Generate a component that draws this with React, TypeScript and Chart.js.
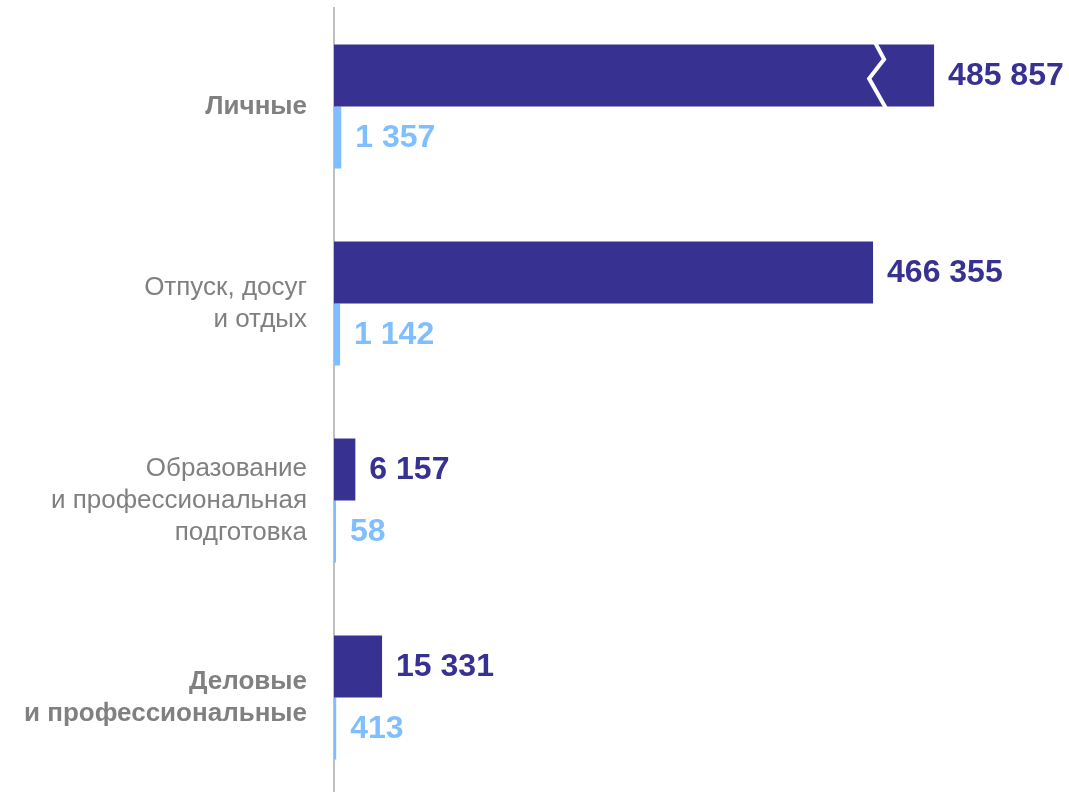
import React, { useEffect, useRef } from "react";
import { Chart, registerables, LinearScale } from "chart.js";

const categories: string[][] = [
  ["Личные"],
  ["Отпуск, досуг", "и отдых"],
  ["Образование", "и профессиональная", "подготовка"],
  ["Деловые", "и профессиональные"],
];
const boldCategories = [true, false, false, true];
const seriesMain = [485857, 466355, 6157, 15331];
const seriesSecond = [1357, 1142, 58, 413];
const brokenBarIndexes = [0];

// axis break knots: value -> share of axis length (non-linear infographic scale)
const breakValues = [0, 1400, 16000, 470000, 490000];
const breakShares = [0, 7.5 / 735, 50 / 735, 543 / 735, 615 / 735];

const DARK = "#373192";
const LIGHT = "#80bfff";
const GRAY = "#808080";
const FONT = "'Liberation Sans', Arial, sans-serif";

function toShare(v: number): number {
  if (v <= breakValues[0]) return breakShares[0];
  for (let i = 1; i < breakValues.length; i++) {
    if (v <= breakValues[i]) {
      const t = (v - breakValues[i - 1]) / (breakValues[i] - breakValues[i - 1]);
      return breakShares[i - 1] + t * (breakShares[i] - breakShares[i - 1]);
    }
  }
  const n = breakValues.length - 1;
  return breakShares[n];
}
function fromShare(s: number): number {
  for (let i = 1; i < breakShares.length; i++) {
    if (s <= breakShares[i]) {
      const t = (s - breakShares[i - 1]) / (breakShares[i] - breakShares[i - 1]);
      return breakValues[i - 1] + t * (breakValues[i] - breakValues[i - 1]);
    }
  }
  return breakValues[breakValues.length - 1];
}

class BrokenScale extends LinearScale {
  static id = "broken";
  getPixelForValue(value: number) {
    return this.getPixelForDecimal(toShare(value));
  }
  getValueForPixel(pixel: number) {
    return fromShare(this.getDecimalForPixel(pixel));
  }
}

Chart.register(...registerables, BrokenScale as any);

const fmt = (v: number) => String(v).replace(/\B(?=(\d{3})+(?!\d))/g, " ");

const labelsPlugin = {
  id: "valueLabels",
  afterDatasetsDraw(chart: any) {
    const ctx = chart.ctx;
    ctx.save();
    // axis break zigzag
    const meta0 = chart.getDatasetMeta(0);
    brokenBarIndexes.forEach((i) => {
      const bar = meta0.data[i];
      if (!bar) return;
      const h = bar.height;
      const top = bar.y - h / 2;
      const end = bar.x;
      ctx.strokeStyle = "#ffffff";
      ctx.lineWidth = 4;
      ctx.lineJoin = "miter";
      ctx.beginPath();
      ctx.moveTo(end - 59, top - 2);
      ctx.lineTo(end - 50, top + h * 0.24);
      ctx.lineTo(end - 65, top + h * 0.55);
      ctx.lineTo(end - 48, top + h + 2);
      ctx.stroke();
    });
    ctx.font = `bold 32px ${FONT}`;
    ctx.textAlign = "left";
    ctx.textBaseline = "middle";
    chart.data.datasets.forEach((ds: any, di: number) => {
      const meta = chart.getDatasetMeta(di);
      meta.data.forEach((bar: any, i: number) => {
        ctx.fillStyle = di === 0 ? DARK : LIGHT;
        ctx.fillText(fmt(ds.data[i]), bar.x + 14, bar.y + 1);
      });
    });
    ctx.restore();
  },
};

export default function App() {
  const ref = useRef<HTMLCanvasElement | null>(null);
  useEffect(() => {
    if (!ref.current) return;
    const chart = new Chart(ref.current, {
      type: "bar",
      data: {
        labels: categories as any,
        datasets: [
          { data: seriesMain, backgroundColor: DARK, borderWidth: 0 },
          { data: seriesSecond, backgroundColor: LIGHT, borderWidth: 0, minBarLength: 2 },
        ],
      },
      options: {
        indexAxis: "y",
        animation: false,
        responsive: true,
        maintainAspectRatio: false,
        layout: { padding: { top: 8, left: 0, right: 0, bottom: 0 } },
        datasets: { bar: { categoryPercentage: 0.63, barPercentage: 1 } },
        plugins: { legend: { display: false }, tooltip: { enabled: false } },
        scales: {
          x: {
            type: "broken" as any,
            min: 0,
            max: 490000,
            display: false,
          },
          y: {
            grid: { display: false, drawTicks: false },
            border: { display: true, color: "#c0c0c0", width: 2 },
            afterFit: (scale: any) => {
              scale.width = 334;
              scale.paddingTop = 0;
              scale.paddingBottom = 0;
            },
            ticks: {
              padding: 27,
              color: GRAY,
              font: (c: any) => ({
                family: FONT,
                size: 26,
                lineHeight: 1.23,
                weight: boldCategories[c.index] ? "bold" : "normal",
              }),
            },
          },
        },
      },
      plugins: [labelsPlugin],
    } as any);
    return () => chart.destroy();
  }, []);
  return (
    <div style={{ position: "fixed", left: 0, top: 0, width: 1069, height: 796, background: "#fff" }}>
      <canvas ref={ref} />
    </div>
  );
}
